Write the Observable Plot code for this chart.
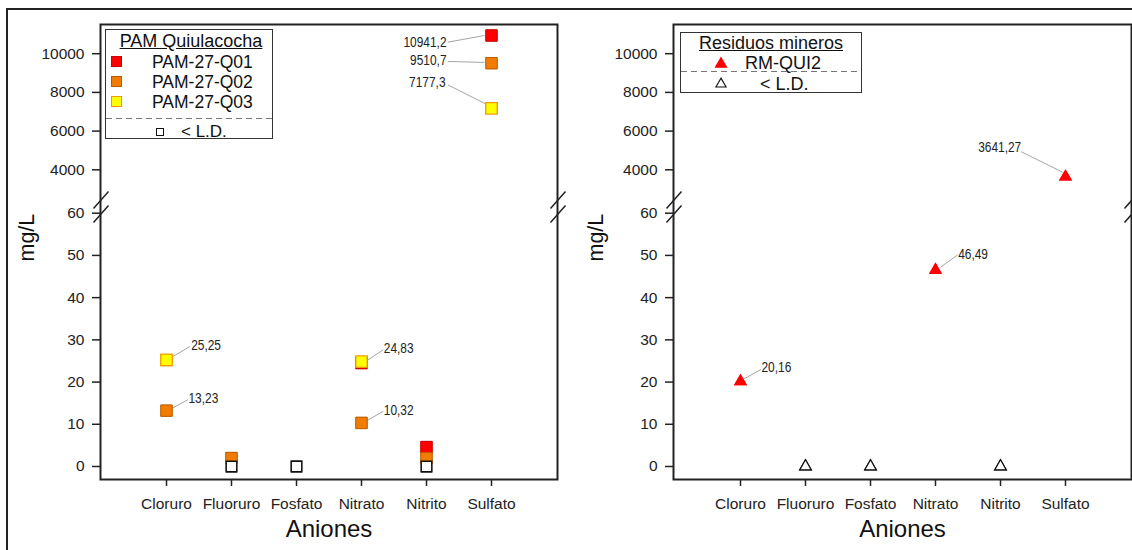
<!DOCTYPE html>
<html>
<head>
<meta charset="utf-8">
<script src="https://cdn.jsdelivr.net/npm/d3@7"></script>
<script src="https://cdn.jsdelivr.net/npm/@observablehq/plot@0.6"></script>
<style>
html,body{margin:0;padding:0;background:#fff;width:1132px;height:550px;overflow:hidden;font-family:"Liberation Sans",Arial,sans-serif;}
#page{position:relative;width:1132px;height:550px;overflow:hidden;}
#outer{position:absolute;left:6px;top:8px;width:1200px;height:600px;border:2px solid #222;box-sizing:border-box;}
#charts{position:absolute;left:0;top:0;display:flex;}
#charts svg{display:block;}
.legend{position:absolute;background:#fff;border:1.5px solid #333;box-sizing:border-box;color:#111;}
.legend .t{position:absolute;left:0;right:0;text-align:center;font-size:18px;line-height:20px;}
.legend .t span{text-decoration:underline;}
.legend .row{position:absolute;font-size:17.5px;line-height:20px;white-space:nowrap;}
.legend .dash{position:absolute;left:0;right:0;height:1px;background:repeating-linear-gradient(to right,#777 0 6px,transparent 6px 10px);}
.legend svg{position:absolute;overflow:visible;}
</style>
</head>
<body>
<div id="page">
  <div id="outer"></div>
  <div id="charts"></div>
</div>
<script>
// ---------------- data ----------------
const anions = ["Cloruro", "Fluoruro", "Fosfato", "Nitrato", "Nitrito", "Sulfato"];
const yTicks = [0, 10, 20, 30, 40, 50, 60, 4000, 6000, 8000, 10000];

// Panel 1: PAM Quiulacocha
const pamTitle = "PAM Quiulacocha";
const pamSeries = ["PAM-27-Q01", "PAM-27-Q02", "PAM-27-Q03"];
const pamQ01 = [null, null, null, 24.5, 4.6, 10941.2];
const pamQ02 = [13.23, 2.0, null, 10.32, 2.0, 9510.7];
const pamQ03 = [25.25, null, null, 24.83, null, 7177.3];
const pamBelowLD = [null, 0, 0, null, 0, null];
const pamLabelled = [["Sulfato", 10941.2], ["Sulfato", 9510.7], ["Sulfato", 7177.3],
                     ["Cloruro", 25.25], ["Cloruro", 13.23], ["Nitrato", 24.83], ["Nitrato", 10.32]];

// Panel 2: Residuos mineros
const rmTitle = "Residuos mineros";
const rmSeries = ["RM-QUI2"];
const rmQui2 = [20.16, null, null, 46.49, null, 3641.27];
const rmBelowLD = [null, 0, 0, null, 0, null];
const rmLabelled = [["Cloruro", 20.16], ["Nitrato", 46.49], ["Sulfato", 3641.27]];

const ldLabel = "< L.D.";
const xTitle = "Aniones";
const yTitle = "mg/L";

// ---------------- helpers ----------------
const rows = vals => anions.map((a, i) => ({anion: a, value: vals[i]})).filter(d => d.value != null);
const fmt = v => String(v).replace(".", ",");
const line = (x1, y1, x2, y2) => ({draw(c) { c.moveTo(x1, y1); c.lineTo(x2, y2); }});
const slash = {draw(c) { c.moveTo(8, -16); c.lineTo(-7, 1); c.moveTo(8, -2); c.lineTo(-7, 15); }};

// broken y axis: lower segment 0..~61, upper segment ~2050..~11500
const yScale = {domain: [-3.08, 61.35, 2052, 11509], range: [479, 207, 207, 24]};
const breakValue = 61.35;

// label layout (pixel offsets from the point): [dx, dy, anchor, leader x1,y1,x2,y2]
const pamLabelLayout = [
  [-45, 6.7, "end", -43.7, 6.7, -7, 0],
  [-45, -2.7, "end", -43.7, -1.7, -7, -0.7],
  [-46, -26, "end", -43.7, -23.5, -4, -3.5],
  [24.7, -14.4, "start", 6.4, -3.4, 23.5, -13.5],
  [22, -11.8, "start", 6.4, -2.8, 21.5, -11],
  [22.3, -12.9, "start", 5.7, -1.2, 21.8, -11.9],
  [22.3, -12.4, "start", 5.7, -2.4, 21.8, -11.7]
];
const rmLabelLayout = [
  [21, -13.6, "start", 3.7, -2.6, 20.5, -11.9],
  [22.7, -15.4, "start", 5, -3, 22.2, -15.4],
  [-44.3, -29.5, "end", -44.3, -25, -2.7, -4.5]
];

function panel({series, labelled, layout, marginLeft, marginRight, yTitleDx, breakAnchor}) {
  const marks = [];
  for (const s of series) {
    marks.push(Plot.dot(rows(s.values), {x: "anion", y: "value", symbol: s.symbol, r: s.r,
      fill: s.fill, stroke: s.stroke, strokeWidth: s.strokeWidth}));
  }
  labelled.forEach(([anion, value], i) => {
    const [dx, dy, anchor, x1, y1, x2, y2] = layout[i];
    marks.push(Plot.dot([{anion, value}], {x: "anion", y: "value", symbol: line(x1, y1, x2, y2),
      fill: "none", stroke: "#9a9a9a", strokeWidth: 0.9}));
    marks.push(Plot.text([{anion, value}], {x: "anion", y: "value", text: d => fmt(d.value),
      dx, dy, textAnchor: anchor, fontSize: 14, fill: "#222", className: "ann",
      fontFamily: "'Liberation Sans Narrow','Arial Narrow','Liberation Sans',sans-serif"}));
  });
  // redraw markers on top of the leader lines
  for (const s of series) {
    marks.push(Plot.dot(rows(s.values), {x: "anion", y: "value", symbol: s.symbol, r: s.r,
      fill: s.fill, stroke: s.stroke, strokeWidth: s.strokeWidth}));
  }
  return Plot.plot({
    width: 566, height: 550,
    marginTop: 24, marginBottom: 71, marginLeft, marginRight,
    style: {fontFamily: "'Liberation Sans',Arial,sans-serif", color: "#222", background: "transparent", overflow: "visible"},
    x: {type: "point", domain: anions, padding: 1},
    y: {type: "linear", domain: yScale.domain, range: yScale.range},
    marks: [
      Plot.axisX({tickSize: 7, tickPadding: 11, fontSize: 15.5, label: null, strokeWidth: 1.5}),
      Plot.axisY({ticks: yTicks, tickFormat: d => String(d), tickSize: 8, tickPadding: 8, fontSize: 15.5, label: null, strokeWidth: 1.5}),
      Plot.frame({stroke: "#222", strokeWidth: 2}),
      Plot.dot([breakValue], {y: d => d, frameAnchor: "left", symbol: slash, fill: "none", stroke: "#222", strokeWidth: 1.5}),
      Plot.dot([breakValue], {y: d => d, frameAnchor: breakAnchor, symbol: slash, fill: "none", stroke: "#222", strokeWidth: 1.5}),
      Plot.text([yTitle], {text: d => d, frameAnchor: "left", rotate: -90, dx: yTitleDx, dy: 9.5, fontSize: 21.5, fill: "#111"}),
      Plot.text([xTitle], {text: d => d, frameAnchor: "bottom", dy: 57, fontSize: 24, fill: "#111"}),
      ...marks
    ]
  });
}

const sq = d3.symbolSquare, tri = d3.symbolTriangle;
const pamColors = [{fill: "#ff0000", stroke: "#c80000"}, {fill: "#f27c00", stroke: "#b85a00"}, {fill: "#ffff00", stroke: "#ee9a00"}];

const left = panel({
  series: [
    {values: pamQ01, symbol: sq, r: 6.4, ...pamColors[0], strokeWidth: 0.8},
    {values: pamQ02, symbol: sq, r: 6.4, ...pamColors[1], strokeWidth: 0.8},
    {values: pamQ03, symbol: sq, r: 6.4, ...pamColors[2], strokeWidth: 1.2},
    {values: pamBelowLD, symbol: sq, r: 5.9, fill: "#fff", stroke: "#111", strokeWidth: 1.3}
  ],
  labelled: pamLabelled, layout: pamLabelLayout,
  marginLeft: 100, marginRight: 9, yTitleDx: -73, breakAnchor: "right"
});
const right = panel({
  series: [
    {values: rmQui2, symbol: tri, r: 4.9, fill: "#ff0000", stroke: "none", strokeWidth: 0},
    {values: rmBelowLD, symbol: tri, r: 4.3, fill: "#fff", stroke: "#111", strokeWidth: 1.2}
  ],
  labelled: rmLabelled, layout: rmLabelLayout,
  marginLeft: 107, marginRight: 1, yTitleDx: -77, breakAnchor: "right"
});
const charts = document.getElementById("charts");
charts.append(left, right);

// condense the value labels (narrow face look)
d3.selectAll(".ann text").each(function() {
  const w = this.getComputedTextLength();
  this.setAttribute("textLength", (w * 0.85).toFixed(1));
  this.setAttribute("lengthAdjust", "spacingAndGlyphs");
});

// ---------------- legends (HTML) ----------------
const page = document.getElementById("page");
function el(tag, cls, css, html) {
  const e = document.createElement(tag);
  if (cls) e.className = cls;
  if (css) e.style.cssText = css;
  if (html != null) e.innerHTML = html;
  return e;
}
function symSvg(type, size, fill, stroke, sw, cx, cy) {
  const path = d3.symbol(type, size)();
  const s = el("div", null, `position:absolute;left:${cx}px;top:${cy}px;width:0;height:0;`);
  s.innerHTML = `<svg width="1" height="1" style="overflow:visible"><path d="${path}" fill="${fill}" stroke="${stroke}" stroke-width="${sw}"/></svg>`;
  return s;
}

// left legend
const lg1 = el("div", "legend", "left:105px;top:29px;width:168px;height:110px;");
lg1.append(el("div", "t", "top:1px;left:4px;", `<span>${pamTitle}</span>`));
pamSeries.forEach((name, i) => {
  const cy = 32 + i * 20;
  lg1.append(el("div", null, `position:absolute;left:5px;top:${cy - 6}px;width:11px;height:11px;background:${pamColors[i].fill};border:0.8px solid ${pamColors[i].stroke};box-sizing:border-box;`));
  lg1.append(el("div", "row", `left:46px;top:${cy - 10}px;`, name));
});
lg1.append(el("div", "dash", "top:88px;"));
lg1.append(el("div", null, "position:absolute;left:50px;top:98px;width:8px;height:8px;border:1.2px solid #111;box-sizing:border-box;background:#fff;"));
lg1.append(el("div", "row", "left:75px;top:92px;font-size:17px;", ldLabel.replace("<", "&lt;")));
page.append(lg1);

// right legend
const lg2 = el("div", "legend", "left:680px;top:32px;width:182px;height:61px;");
lg2.append(el("div", "t", "top:0px;", `<span>${rmTitle}</span>`));
lg2.append(symSvg(d3.symbolTriangle, 75, "#ff0000", "none", 0, 40, 31));
lg2.append(el("div", "row", "left:64px;top:20px;font-size:18px;", rmSeries[0]));
lg2.append(el("div", "dash", "top:38px;"));
lg2.append(symSvg(d3.symbolTriangle, 45, "#fff", "#111", 1.1, 40, 51));
lg2.append(el("div", "row", "left:79px;top:41px;font-size:18px;", ldLabel.replace("<", "&lt;")));
page.append(lg2);
</script>
</body>
</html>
